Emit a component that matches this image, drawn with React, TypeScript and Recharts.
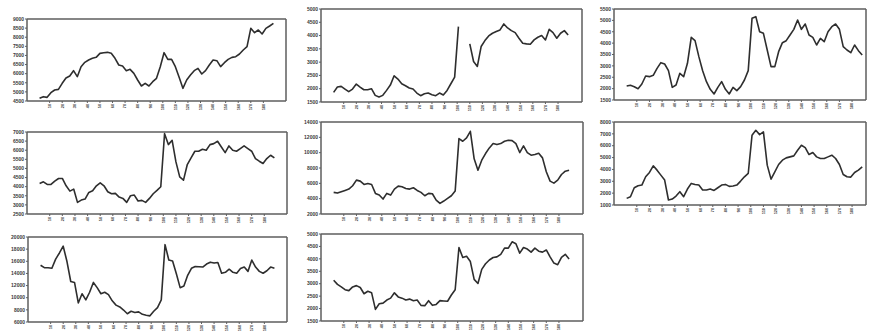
import { LineChart, Line, XAxis, YAxis, ReferenceLine } from "recharts";

// observation index (same for all eight panels)
const obs = [2, 5, 8, 11, 14, 17, 20, 23, 26, 29, 32, 35, 38, 41, 44, 47, 50, 53, 56, 59, 62, 65, 68, 71, 74, 77, 80, 83, 86, 89, 92, 95, 98, 101, 104, 107, 110, 113, 116, 119, 122, 125, 128, 131, 134, 137, 140, 143, 146, 149, 152, 155, 158, 161, 164, 167, 170, 173, 176, 179, 182, 185, 188];

const xTicks = [10, 20, 30, 40, 50, 60, 70, 80, 90, 100, 110, 120, 130, 140, 150, 160, 170, 180];

const seriesA = [4646, 4738, 4700, 4957, 5104, 5140, 5470, 5762, 5872, 6164, 5835, 6384, 6622, 6750, 6841, 6896, 7115, 7152, 7170, 7115, 6841, 6475, 6420, 6164, 6237, 6018, 5652, 5323, 5470, 5323, 5561, 5744, 6384, 7152, 6786, 6786, 6384, 5799, 5195, 5652, 5927, 6164, 6292, 5981, 6164, 6475, 6750, 6713, 6384, 6603, 6786, 6896, 6933, 7079, 7298, 7481, 8487, 8249, 8396, 8176, 8487, 8615, 8761];
const seriesB = [1862, 2062, 2087, 1987, 1887, 1987, 2175, 2062, 1962, 1962, 2000, 1750, 1687, 1750, 1937, 2137, 2487, 2362, 2187, 2112, 2025, 1987, 1837, 1737, 1812, 1837, 1775, 1737, 1837, 1762, 1937, 2187, 2437, 4337, null, null, 3687, 3025, 2837, 3587, 3812, 3987, 4087, 4150, 4212, 4437, 4287, 4187, 4112, 3900, 3712, 3687, 3675, 3837, 3937, 4000, 3837, 4237, 4112, 3900, 4087, 4187, 4025];
const seriesC = [2115, 2145, 2086, 1998, 2203, 2555, 2526, 2584, 2892, 3141, 3082, 2789, 2057, 2159, 2672, 2526, 3112, 4254, 4108, 3405, 2789, 2306, 1969, 1764, 2057, 2306, 1969, 1764, 2057, 1910, 2086, 2379, 2789, 5089, 5163, 4503, 4430, 3698, 2965, 2965, 3624, 4020, 4108, 4357, 4606, 5016, 4606, 4840, 4357, 4254, 3917, 4210, 4064, 4503, 4723, 4840, 4606, 3844, 3698, 3580, 3917, 3668, 3478];
const seriesD = [4176, 4267, 4122, 4122, 4304, 4449, 4449, 4049, 3757, 3867, 3138, 3265, 3320, 3684, 3775, 4049, 4213, 4049, 3721, 3611, 3630, 3429, 3356, 3138, 3502, 3538, 3211, 3247, 3138, 3356, 3611, 3794, 3994, 6909, 6308, 6545, 5360, 4540, 4358, 5215, 5579, 5944, 5944, 6053, 5998, 6308, 6363, 6490, 6180, 5871, 6235, 5998, 5944, 6089, 6235, 6089, 5944, 5543, 5397, 5270, 5543, 5725, 5579];
const seriesE = [4816, 4729, 4902, 5076, 5249, 5682, 6419, 6289, 5856, 5985, 5856, 4686, 4469, 3949, 4686, 4469, 5249, 5639, 5552, 5336, 5249, 5422, 5076, 4816, 4383, 4686, 4643, 3819, 3386, 3689, 4036, 4383, 4989, 11834, 11487, 11920, 12787, 9200, 7718, 9018, 9884, 10621, 11184, 11054, 11184, 11487, 11617, 11574, 11184, 10014, 10881, 10014, 9668, 9754, 9928, 9321, 7502, 6289, 6029, 6419, 7155, 7588, 7718];
const seriesF = [1560, 1700, 2456, 2624, 2680, 3380, 3744, 4304, 3940, 3520, 3100, 1420, 1504, 1756, 2120, 1700, 2344, 2820, 2736, 2680, 2260, 2260, 2344, 2232, 2456, 2680, 2736, 2568, 2596, 2680, 3016, 3380, 3660, 6880, 7300, 6936, 7160, 4360, 3184, 3800, 4416, 4780, 4976, 5060, 5144, 5620, 6040, 5844, 5256, 5424, 5060, 4920, 4920, 5060, 5200, 4920, 4416, 3576, 3380, 3352, 3744, 3940, 4220];
const seriesG = [15350, 14946, 14946, 14845, 16361, 17371, 18483, 15956, 12671, 12519, 9133, 10650, 9639, 10902, 12519, 11660, 10650, 10902, 10498, 9487, 8780, 8476, 7971, 7365, 7769, 7567, 7668, 7264, 7112, 7011, 7769, 8375, 9639, 18736, 16209, 16058, 13935, 11660, 11913, 13682, 14845, 15148, 15097, 15047, 15552, 15855, 15704, 15805, 14036, 14188, 14693, 14188, 14036, 14794, 15047, 14340, 16209, 15047, 14340, 14036, 14440, 15047, 14845];
const seriesH = [3137, 2973, 2872, 2759, 2721, 2872, 2923, 2847, 2595, 2696, 2633, 1966, 2192, 2218, 2344, 2419, 2633, 2469, 2419, 2344, 2381, 2318, 2344, 2130, 2117, 2318, 2130, 2167, 2318, 2306, 2293, 2545, 2759, 4459, 4056, 4106, 3892, 3174, 3011, 3577, 3804, 3955, 4056, 4081, 4182, 4433, 4433, 4685, 4610, 4232, 4459, 4396, 4270, 4433, 4308, 4270, 4357, 4081, 3829, 3766, 4056, 4182, 3993];

const ticksA = [4500, 5000, 5500, 6000, 6500, 7000, 7500, 8000, 8500, 9000];
const ticksB = [1500, 2000, 2500, 3000, 3500, 4000, 4500, 5000];
const ticksC = [1500, 2000, 2500, 3000, 3500, 4000, 4500, 5000, 5500];
const ticksD = [2500, 3000, 3500, 4000, 4500, 5000, 5500, 6000, 6500, 7000];
const ticksE = [2000, 4000, 6000, 8000, 10000, 12000, 14000];
const ticksF = [1000, 2000, 3000, 4000, 5000, 6000, 7000, 8000];
const ticksG = [6000, 8000, 10000, 12000, 14000, 16000, 18000, 20000];
const ticksH = [1500, 2000, 2500, 3000, 3500, 4000, 4500, 5000];

const rows = obs.map((x, i) => ({
  x,
  a: seriesA[i], b: seriesB[i], c: seriesC[i], d: seriesD[i],
  e: seriesE[i], f: seriesF[i], g: seriesG[i], h: seriesH[i],
}));

// plot-box placement of each panel in the figure
const panels = [
  { key: "a", ticks: ticksA, left: 27, top: 19, w: 259, h: 82, xMax: 198 },
  { key: "b", ticks: ticksB, left: 321, top: 9, w: 261, h: 93, xMax: 199 },
  { key: "c", ticks: ticksC, left: 614, top: 9, w: 252, h: 91, xMax: 191 },
  { key: "d", ticks: ticksD, left: 27, top: 132, w: 260, h: 82, xMax: 198 },
  { key: "e", ticks: ticksE, left: 321, top: 122, w: 262, h: 92, xMax: 199 },
  { key: "f", ticks: ticksF, left: 614, top: 122, w: 252, h: 83, xMax: 191 },
  { key: "g", ticks: ticksG, left: 28, top: 237, w: 259, h: 85, xMax: 198 },
  { key: "h", ticks: ticksH, left: 321, top: 234, w: 262, h: 87, xMax: 199 },
];

const FRAME = "#5e5e5e";
const INK = "#2e2e2e";

const XTick = ({ x, y, payload }: any) => (
  <g transform={`translate(${x},${y})`}>
    <text transform="rotate(-90)" x={-1} y={1.4} textAnchor="end" fontSize={3.8} fontWeight="bold" fill="#3a3a3a" fontFamily="Arial, 'Liberation Sans'">
      {payload.value}
    </text>
  </g>
);

function Panel({ p }: { p: (typeof panels)[number] }) {
  const yMin = p.ticks[0];
  const yMax = p.ticks[p.ticks.length - 1];
  return (
    <div style={{ position: "absolute", left: p.left - 27, top: p.top - 4 }}>
      <LineChart width={p.w + 30} height={p.h + 14} data={rows} margin={{ top: 4, right: 3, left: 0, bottom: 0 }}>
        <XAxis
          dataKey="x"
          type="number"
          domain={[-8, p.xMax]}
          ticks={xTicks}
          allowDataOverflow
          height={10}
          tick={<XTick />}
          tickSize={2}
          tickMargin={0}
          axisLine={{ stroke: FRAME, strokeWidth: 1.5 }}
          tickLine={{ stroke: FRAME }}
          interval={0}
        />
        <YAxis
          width={27}
          domain={[yMin, yMax]}
          ticks={p.ticks}
          allowDataOverflow
          interval={0}
          tickSize={2}
          tickMargin={1}
          tick={{ fontSize: 5, fontWeight: "bold", fill: "#3a3a3a", fontFamily: "Arial, 'Liberation Sans'" }}
          axisLine={{ stroke: FRAME, strokeWidth: 1.5 }}
          tickLine={{ stroke: FRAME }}
        />
        <ReferenceLine y={yMax} stroke={FRAME} strokeWidth={1.5} />
        <ReferenceLine x={p.xMax} stroke={FRAME} strokeWidth={1.5} />
        <Line
          dataKey={p.key}
          stroke={INK}
          strokeWidth={1.6}
          strokeLinejoin="round"
          dot={false}
          type="linear"
          isAnimationActive={false}
        />
      </LineChart>
    </div>
  );
}

export default function App() {
  return (
    <div style={{ position: "absolute", left: 0, top: 0, width: 869, height: 332, background: "#fff", overflow: "hidden" }}>
      {panels.map((p) => (
        <Panel key={p.key} p={p} />
      ))}
    </div>
  );
}
